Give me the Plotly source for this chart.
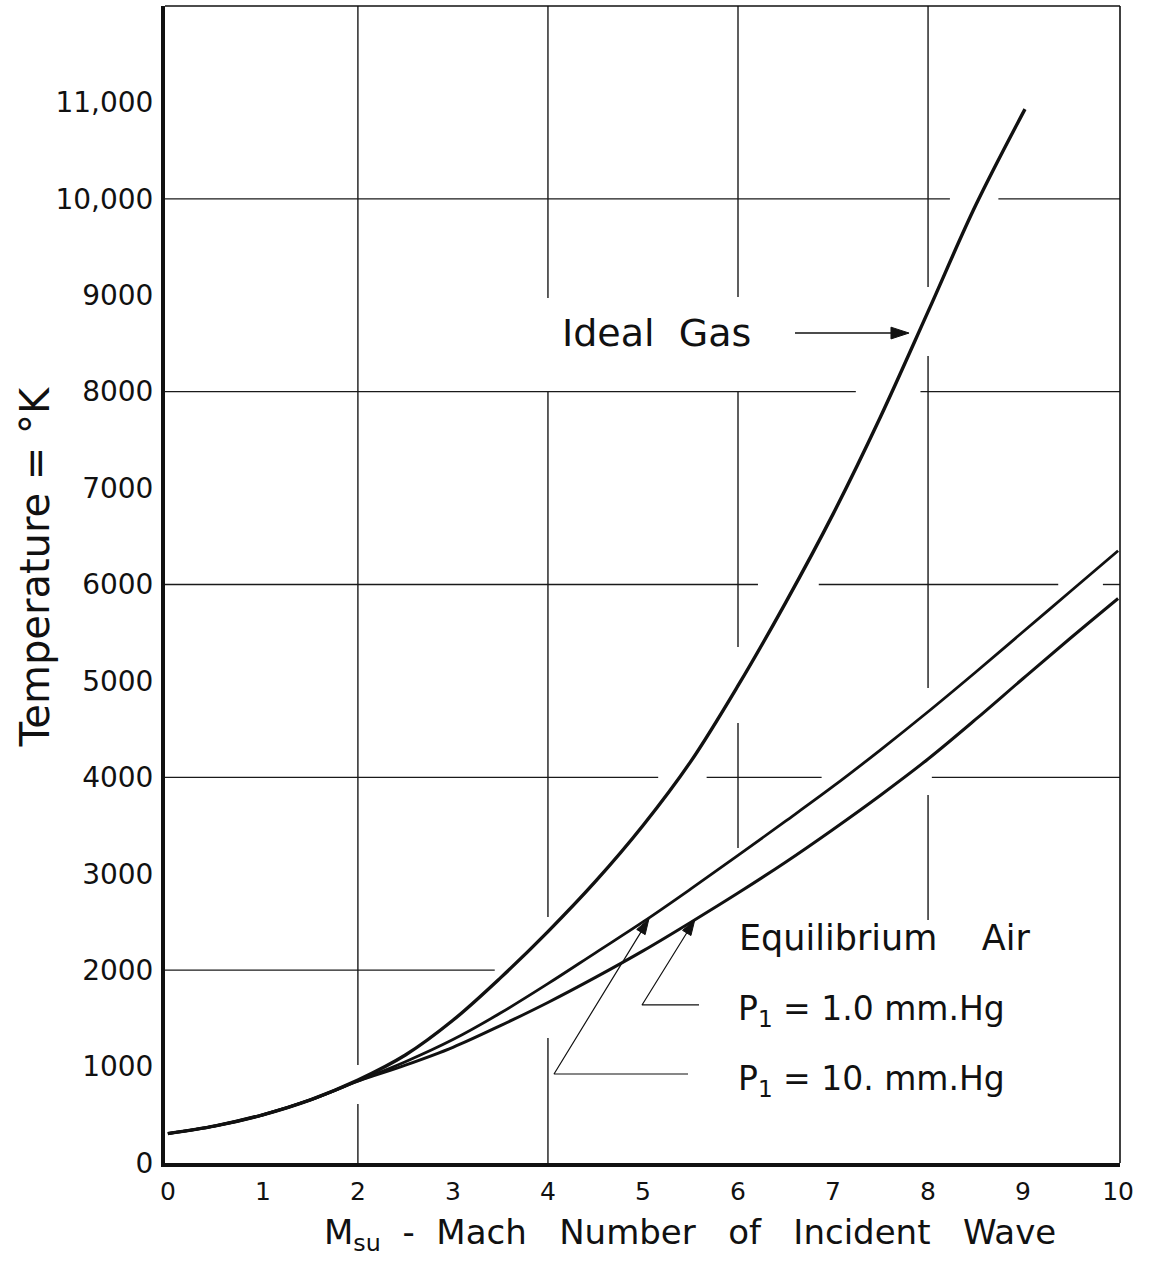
import plotly.graph_objects as go

# ---------------- data ----------------
mach_ideal = [0, 0.5, 1, 1.5, 2, 2.5, 3, 3.5, 4, 4.5, 5, 5.5, 6, 6.5, 7, 7.5, 8, 8.5, 9.02]
temp_ideal = [305, 385, 500, 655, 860, 1120, 1480, 1920, 2400, 2920, 3500, 4160, 4950, 5810, 6730, 7740, 8830, 9930, 10930]

mach_eq = [0, 0.5, 1, 1.5, 2, 2.5, 3, 3.5, 4, 4.5, 5, 5.5, 6, 6.5, 7, 7.5, 8, 8.5, 9, 9.5, 10]
temp_eq_10mm = [305, 385, 500, 655, 850, 1050, 1280, 1555, 1860, 2180, 2500, 2840, 3190, 3545, 3905, 4285, 4680, 5090, 5510, 5930, 6350]
temp_eq_1mm = [305, 385, 500, 655, 850, 1015, 1200, 1425, 1665, 1925, 2200, 2495, 2800, 3120, 3460, 3815, 4190, 4600, 5025, 5445, 5855]

x_ticks = [0, 1, 2, 3, 4, 5, 6, 7, 8, 9, 10]
x_tick_labels = ["0", "1", "2", "3", "4", "5", "6", "7", "8", "9", "10"]
y_ticks = [0, 1000, 2000, 3000, 4000, 5000, 6000, 7000, 8000, 9000, 10000, 11000]
y_tick_labels = ["0", "1000", "2000", "3000", "4000", "5000", "6000", "7000", "8000", "9000", "10,000", "11,000"]

FONT = "DejaVu Sans"
INK = "#111111"

fig = go.Figure()
fig.add_trace(go.Scatter(x=mach_ideal, y=temp_ideal, mode="lines", name="Ideal Gas",
                         line=dict(color=INK, width=3.4, shape="spline", smoothing=1.0)))
fig.add_trace(go.Scatter(x=mach_eq, y=temp_eq_10mm, mode="lines", name="P1 = 10. mm.Hg",
                         line=dict(color=INK, width=2.8, shape="spline", smoothing=1.0)))
fig.add_trace(go.Scatter(x=mach_eq, y=temp_eq_1mm, mode="lines", name="P1 = 1.0 mm.Hg",
                         line=dict(color=INK, width=3.0, shape="spline", smoothing=1.0)))

# leader lines with arrowheads (annotation geometry)
leaders = [
    ([6.60, 7.80], [8608, 8608], 1.4, 19),
    ([5.59, 4.99, 5.545], [1639, 1639, 2520], 1.2, 16),
    ([5.474, 4.064, 5.062], [923, 923, 2530], 1.2, 16),
]
for lx, ly, lw, ms in leaders:
    fig.add_trace(go.Scatter(
        x=lx, y=ly, mode="lines+markers", hoverinfo="skip", showlegend=False,
        line=dict(color=INK, width=lw),
        marker=dict(symbol="arrow", angleref="previous", color=INK, opacity=1,
                    size=[0] * (len(lx) - 1) + [ms], line=dict(width=1, color=INK)),
    ))

# hand-drafted grid: segments with gaps, as on the original sheet
grid_v = {
    2: [(0, 612), (1016, 12000)],
    4: [(0, 1296), (2551, 7996), (8971, 12000)],
    6: [(3267, 4563), (5352, 8000), (8981, 12000)],
    8: [(2520, 3817), (4926, 8370), (9085, 12000)],
}
grid_h = {
    10000: [(-0.03, 8.23), (8.74, 10.02)],
    8000: [(-0.03, 7.24), (7.92, 10.02)],
    6000: [(-0.03, 6.21), (6.85, 9.37), (9.84, 10.02)],
    4000: [(-0.03, 5.16), (5.67, 6.88), (8.04, 10.02)],
    2000: [(-0.03, 3.44)],
}
shapes = []
gl = dict(color="#1a1a1a", width=1.4)
for xv, segs in grid_v.items():
    for a, b in segs:
        shapes.append(dict(type="line", xref="x", yref="y", x0=xv, x1=xv, y0=a, y1=b, line=gl, layer="below"))
for yv, segs in grid_h.items():
    for a, b in segs:
        shapes.append(dict(type="line", xref="x", yref="y", x0=a, x1=b, y0=yv, y1=yv, line=gl, layer="below"))
# top and right frame (thin)
shapes.append(dict(type="line", xref="x domain", yref="y domain", x0=0, x1=1, y0=1, y1=1, line=dict(color=INK, width=1.6)))
shapes.append(dict(type="line", xref="x domain", yref="y domain", x0=1, x1=1, y0=0, y1=1, line=dict(color=INK, width=1.6)))

sp = "\u00a0"
annotations = [
    dict(text="Ideal" + sp * 2 + "Gas", x=4.127, y=8608, xref="x", yref="y", xanchor="left", yanchor="middle",
         showarrow=False, font=dict(family=FONT, size=38, color=INK)),
    dict(text="Equilibrium" + sp * 4 + "Air", x=5.99, y=2334, xref="x", yref="y", xanchor="left", yanchor="middle",
         showarrow=False, font=dict(family=FONT, size=35, color=INK)),
    dict(text="P<sub>1</sub> = 1.0 mm.Hg", x=5.98, y=1580, xref="x", yref="y", xanchor="left", yanchor="middle",
         showarrow=False, font=dict(family=FONT, size=33, color=INK)),
    dict(text="P<sub>1</sub> = 10. mm.Hg", x=5.98, y=855, xref="x", yref="y", xanchor="left", yanchor="middle",
         showarrow=False, font=dict(family=FONT, size=33, color=INK)),
    dict(text="Temperature" + sp + "=" + sp + "°K", x=-0.136, y=0.515, xref="paper", yref="paper", textangle=-90,
         xanchor="center", yanchor="middle", showarrow=False, font=dict(family=FONT, size=40, color=INK)),
    dict(text="M<sub>su</sub>" + sp * 2 + "-" + sp * 2 + "Mach" + sp * 3 + "Number" + sp * 3 + "of" + sp * 3
         + "Incident" + sp * 3 + "Wave",
         x=0.55, y=-0.0405, xref="paper", yref="paper",
         xanchor="center", yanchor="top", showarrow=False, font=dict(family=FONT, size=34, color=INK)),
]

fig.update_layout(
    width=1162, height=1279,
    margin=dict(l=165, r=42, t=6, b=116),
    paper_bgcolor="white", plot_bgcolor="white",
    showlegend=False,
    shapes=shapes, annotations=annotations,
    font=dict(family=FONT, color=INK),
)
fig.update_xaxes(range=[-0.03, 10.02], tickvals=x_ticks, ticktext=x_tick_labels,
                 showgrid=False, zeroline=False, showline=True, linewidth=4, linecolor=INK,
                 ticks="", ticklabelstandoff=3, tickfont=dict(family=FONT, size=25, color=INK))
fig.update_yaxes(range=[0, 12000], tickvals=y_ticks, ticktext=y_tick_labels,
                 showgrid=False, zeroline=False, showline=True, linewidth=4, linecolor=INK,
                 ticks="", ticklabelstandoff=2, tickfont=dict(family=FONT, size=28, color=INK))

fig.write_html("out.html")
